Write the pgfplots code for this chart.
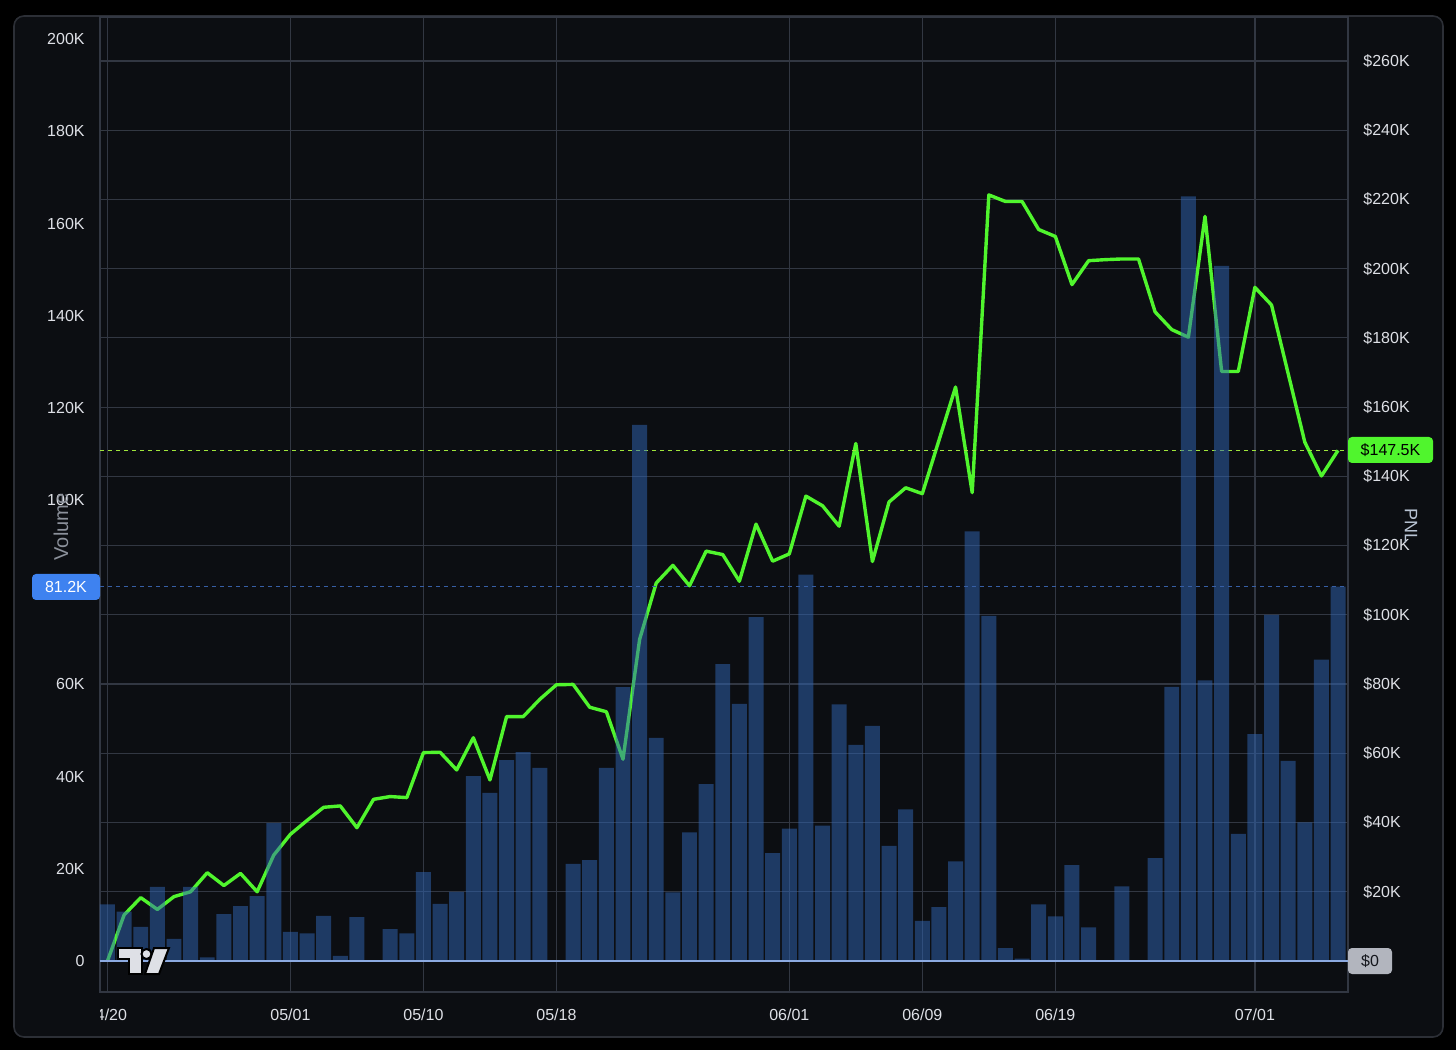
\documentclass[border=0pt]{standalone}
\usepackage{fontspec}
\setmainfont{Liberation Sans}
\usepackage{pgfplots}
\usepackage{pgfplotstable}
\pgfplotsset{compat=1.18}
\definecolor{bgpanel}{RGB}{12,14,18}
\definecolor{panelborder}{RGB}{44,47,54}
\definecolor{gridc}{RGB}{50,55,66}
\definecolor{labc}{RGB}{222,224,230}
\definecolor{barc}{RGB}{48,102,182}
\definecolor{pnlc}{RGB}{80,245,45}
\definecolor{zeroc}{RGB}{140,170,225}
\definecolor{volbadge}{RGB}{62,130,240}
\definecolor{graybadge}{RGB}{178,181,190}
\definecolor{axlab}{RGB}{140,145,155}
\definecolor{pnllab}{RGB}{185,196,212}
\definecolor{dashgreen}{RGB}{160,230,60}
\definecolor{dashblue}{RGB}{55,95,165}

\pgfplotstableread{
i vol pnl
0 12.3 0
1 10.7 13.3
2 7.4 18.3
3 16.1 14.9
4 4.8 18.6
5 16.1 20.0
6 0.8 25.5
7 10.2 21.8
8 11.9 25.3
9 14.1 20.0
10 29.9 30.6
11 6.3 36.6
12 6.0 40.6
13 9.8 44.4
14 1.1 44.8
15 9.5 38.5
16 0 46.7
17 6.9 47.5
18 6.0 47.2
19 19.3 60.2
20 12.4 60.3
21 15.0 55.2
22 40.1 64.5
23 36.5 52.3
24 43.6 70.6
25 45.3 70.6
26 41.9 75.6
27 0 79.8
28 21.1 79.9
29 21.9 73.3
30 41.9 72.0
31 59.4 58.3
32 116.3 92.9
33 48.4 109.2
34 14.9 114.3
35 27.9 108.4
36 38.4 118.4
37 64.4 117.4
38 55.8 109.7
39 74.6 126.2
40 23.4 115.5
41 28.7 117.6
42 83.8 134.3
43 29.4 131.5
44 55.7 125.6
45 46.9 149.5
46 51.0 115.4
47 25.0 132.6
48 32.9 136.7
49 8.7 135.0
50 11.7 150.4
51 21.6 165.8
52 93.2 135.3
53 74.9 221.3
54 2.8 219.4
55 0.5 219.4
56 12.3 211.3
57 9.7 209.3
58 20.8 195.4
59 7.3 202.3
60 0 202.6
61 16.2 202.8
62 0 202.8
63 22.3 187.5
64 59.5 182.4
65 165.9 180.2
66 60.9 215.1
67 150.8 170.3
68 27.6 170.3
69 49.2 194.6
70 75.1 189.5
71 43.4 169.7
72 30.1 149.9
73 65.4 140.1
74 81.2 147.5
}\data

\begin{document}
\begin{tikzpicture}
\begin{scope}[x=0.5pt,y=-0.5pt,shift={(0pt,525pt)}]
  \fill[black] (0,0) rectangle (1456,1050);
  \filldraw[fill=bgpanel, draw=panelborder, line width=0.8pt, rounded corners=5pt] (14,16) rectangle (1443,1037);
\end{scope}

\begin{axis}[
  name=pnlax,
  at={(50pt,29pt)}, anchor=south west,
  scale only axis, width=624pt, height=487.5pt,
  xmin=-0.45, xmax=74.6,
  ymin=-8.956, ymax=272.7,
  axis line style={draw=gridc, line width=0.7pt},
  grid=major,
  major grid style={draw=gridc, line width=0.6pt},
  xtick={0,11,19,27,41,49,57,69},
  xticklabels={{},05/01,05/10,05/18,06/01,06/09,06/19,07/01},
  ytick={0,20,40,60,80,100,120,140,160,180,200,220,240,260},
  yticklabels={{},\$20K,\$40K,\$60K,\$80K,\$100K,\$120K,\$140K,\$160K,\$180K,\$200K,\$220K,\$240K,\$260K},
  yticklabel pos=right,
  major tick length=0pt,
  tick style={draw=none},
  ticklabel style={font=\fontsize{8}{9}\selectfont, text=labc, inner sep=0pt},
  yticklabel style={anchor=west, xshift=7.5pt},
  xticklabel style={anchor=center, yshift=-11.5pt},
]
\addplot[pnlc, line width=1.7pt, line join=round, mark=none] table[x=i,y=pnl]{\data};
\addplot[dashgreen, line width=0.6pt, dash pattern=on 2pt off 2pt, mark=none] coordinates {(-0.45,147.5) (74.6,147.5)};
\end{axis}

\begin{axis}[
  name=volax,
  at={(50pt,29pt)}, anchor=south west,
  scale only axis, width=624pt, height=487.5pt,
  xmin=-0.45, xmax=74.6,
  ymin=-6.72, ymax=204.8,
  axis line style={draw=none},
  xtick=\empty,
  ytick={0,20,40,60,80,100,120,140,160,180,200},
  yticklabels={0,20K,40K,60K,80K,100K,120K,140K,160K,180K,200K},
  major tick length=0pt,
  tick style={draw=none},
  ticklabel style={font=\fontsize{8}{9}\selectfont, text=labc, inner sep=0pt},
  yticklabel style={anchor=east, xshift=-7.5pt},
]
\addplot[ybar, bar width=0.9, fill=barc, fill opacity=0.5, draw=none] table[x=i,y=vol]{\data};
\addplot[zeroc, line width=0.8pt, mark=none] coordinates {(-0.45,0) (74.6,0)};
\addplot[dashblue, line width=0.6pt, dash pattern=on 2pt off 2pt, mark=none] coordinates {(-0.45,81.2) (74.6,81.2)};
\end{axis}

\begin{scope}[x=0.5pt,y=-0.5pt,shift={(0pt,525pt)}]
  % clipped first date label
  \begin{scope}
    \clip (100,996) rectangle (200,1035);
    \node[font=\fontsize{8}{9}\selectfont, text=labc, inner sep=0pt] at (107,1015) {04/20};
  \end{scope}
  % axis titles
  \node[rotate=90, text=axlab, font=\fontsize{10}{12}\selectfont, inner sep=0pt] at (61,527) {Volume};
  \node[rotate=-90, text=pnllab, font=\fontsize{9}{11}\selectfont, inner sep=0pt] at (1411,526) {PNL};
  % badges
  \node[fill=volbadge, text=white, rounded corners=2pt, minimum width=34pt, minimum height=13pt, inner sep=0pt, font=\fontsize{8}{9}\selectfont] at (66,587) {81.2K};
  \node[fill=pnlc, text=black, rounded corners=2pt, minimum width=42.5pt, minimum height=13pt, inner sep=0pt, font=\fontsize{8}{9}\selectfont] at (1390.5,450) {\$147.5K};
  \node[fill=graybadge, text={rgb,255:red,20;green,22;blue,28}, rounded corners=2pt, minimum width=22pt, minimum height=13pt, inner sep=0pt, font=\fontsize{8}{9}\selectfont] at (1370,961) {\$0};
  % logo
  \filldraw[fill=labc, draw=black, line width=1pt] (118,948) -- (142,948) -- (142,974) -- (129,974) -- (129,959) -- (118,959) -- cycle;
  \filldraw[fill=labc, draw=black, line width=1pt] (146.5,954) circle (5);
  \filldraw[fill=labc, draw=black, line width=1pt] (154,948) -- (169,948) -- (159,974) -- (145,974) -- cycle;
\end{scope}
\end{tikzpicture}
\end{document}
